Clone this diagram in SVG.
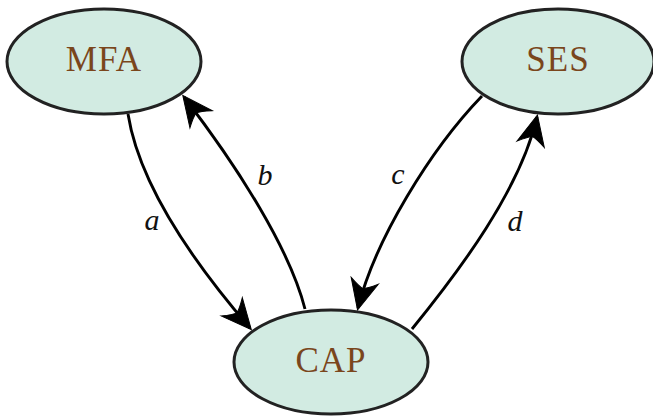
<svg xmlns="http://www.w3.org/2000/svg" width="653" height="416" viewBox="0 0 653 416">
<style>
.node ellipse{fill:#d2ebe2;stroke:#222;stroke-width:3}
.node text{font-family:"Liberation Serif","DejaVu Serif",serif;font-size:35px;fill:#7a461c;text-anchor:middle;letter-spacing:1px}
.edge path{fill:none;stroke:#000;stroke-width:2.9}
.lbl{font-family:"Liberation Serif","DejaVu Serif",serif;font-style:italic;font-size:30px;fill:#111;text-anchor:middle}
</style>
<defs>
<marker id="arr" markerUnits="userSpaceOnUse" viewBox="-34 -17 36 34" refX="0" refY="0" markerWidth="36" markerHeight="34" orient="auto" overflow="visible">
<path d="M2,0 L-28,-14 Q-21,-4 -20,0 Q-21,4 -28,14 Z" fill="#000" stroke="#000" stroke-width="1" stroke-linejoin="miter"/>
</marker>
</defs>
<rect width="653" height="416" fill="#fff"/>
<g id="MFA" class="node"><ellipse cx="104" cy="61.5" rx="97" ry="52.5"/><text x="104" y="71">MFA</text></g>
<g id="SES" class="node"><ellipse cx="558" cy="61.5" rx="96" ry="52.5"/><text x="558" y="71">SES</text></g>
<g id="CAP" class="node"><ellipse cx="331" cy="362" rx="97" ry="52"/><text x="331" y="372">CAP</text></g>
<g id="connectors" class="edge">
<path d="M128,114 C140,190 200,270 250,328" marker-end="url(#arr)"/>
<path d="M305,309 C290,250 240,170 184,97" marker-end="url(#arr)"/>
<path d="M482,96 C430,150 375,240 358,308" marker-end="url(#arr)"/>
<path d="M412,329 C460,270 520,190 537,117" marker-end="url(#arr)"/>
<text class="lbl" x="152" y="230">a</text>
<text class="lbl" x="265" y="185">b</text>
<text class="lbl" x="398" y="184">c</text>
<text class="lbl" x="515" y="231">d</text>
</g>
</svg>
